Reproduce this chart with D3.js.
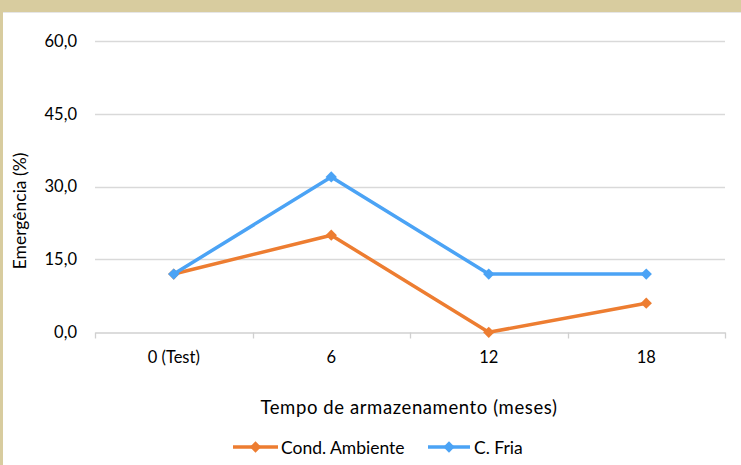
<!DOCTYPE html>
<html><head><meta charset="utf-8">
<script src="https://cdn.jsdelivr.net/npm/d3@7"></script>
<style>
html,body{margin:0;padding:0;background:#fff;}
svg{display:block;font-family:Lato,"Open Sans",sans-serif;}
</style></head>
<body>
<script>
const categories = ["0 (Test)", "6", "12", "18"];
const condAmbiente = [12, 20, 0, 6];
const cFria = [12, 32, 12, 12];
const yTicks = [0, 15, 30, 45, 60];
const seriesNames = ["Cond. Ambiente", "C. Fria"];
const seriesColors = ["#ED7D31", "#4BA3F5"];

(function(){
const W = 741, H = 465;
const svg = d3.select("body").append("svg").attr("width", W).attr("height", H);

// frame
svg.append("rect").attr("x",0).attr("y",0).attr("width",W).attr("height",H).attr("fill","#fff");
svg.append("rect").attr("x",0).attr("y",0).attr("width",W).attr("height",12).attr("fill","#D8CC9F");
svg.append("rect").attr("x",0).attr("y",0).attr("width",3).attr("height",H).attr("fill","#D8CC9F");
svg.append("line").attr("x1",3).attr("x2",W).attr("y1",12.5).attr("y2",12.5).attr("stroke","#E6E6E6");

const pLeft = 95, pRight = 725, pTop = 41, pBottom = 332.3;
const x = d3.scaleBand().domain(categories).range([pLeft, pRight]).padding(0);
const y = d3.scaleLinear().domain([0, 60]).range([pBottom, pTop]);

// gridlines
svg.append("g").selectAll("line").data(yTicks.filter(d=>d>0)).join("line")
  .attr("x1", pLeft).attr("x2", pRight)
  .attr("y1", d=>Math.round(y(d))+0.5).attr("y2", d=>Math.round(y(d))+0.5)
  .attr("stroke", "#D9D9D9").attr("stroke-width", 1.3);

// y axis labels
const yAxis = d3.axisLeft(y).tickValues(yTicks).tickSize(0).tickPadding(0)
  .tickFormat(d => d3.format(".1f")(d).replace(".", ","));
const gy = svg.append("g").attr("transform", `translate(${77},0)`).call(yAxis);
gy.select(".domain").remove();
gy.selectAll("text").attr("font-size", 16.5).attr("fill", "#000").attr("font-family","Lato,sans-serif");

// x axis
const xAxis = d3.axisBottom(x).tickSize(0).tickPadding(19);
const gx = svg.append("g").attr("transform", `translate(0,${Math.round(pBottom)+0.5})`).call(xAxis);
gx.select(".domain").attr("stroke", "#D0D0D0").attr("stroke-width", 1.3);
gx.selectAll("text").attr("font-size", 16.5).attr("fill", "#000").attr("font-family","Lato,sans-serif");
// boundary ticks
const bounds = categories.map(c => x(c)).concat([x(categories[categories.length-1]) + x.bandwidth()]);
gx.append("g").selectAll("line").data(bounds).join("line")
  .attr("x1", d=>Math.round(d)+0.5).attr("x2", d=>Math.round(d)+0.5)
  .attr("y1", 0).attr("y2", 6).attr("stroke", "#D0D0D0").attr("stroke-width", 1.3);

// series
const seriesData = [condAmbiente, cFria];
const line = d3.line().x((d,i)=>x(categories[i]) + x.bandwidth()/2).y(d=>y(d));
const diamond = d3.symbol().type(d3.symbolSquare).size(64);
seriesData.forEach((vals, si) => {
  const g = svg.append("g");
  g.append("path").datum(vals).attr("d", line).attr("fill","none")
    .attr("stroke", seriesColors[si]).attr("stroke-width", 3.5).attr("stroke-linejoin","round");
  g.selectAll("path.m").data(vals).join("path").attr("class","m")
    .attr("d", diamond)
    .attr("transform", (d,i)=>`translate(${x(categories[i]) + x.bandwidth()/2},${y(d)}) rotate(45)`)
    .attr("fill", seriesColors[si]);
});

// axis titles
svg.append("text").attr("transform", `translate(26,211) rotate(-90)`)
  .attr("text-anchor","middle").attr("font-size",17.5).attr("fill","#000")
  .text("Emergência (%)");
svg.append("text").attr("x", 409).attr("y", 414)
  .attr("text-anchor","middle").attr("font-size",18.5).attr("fill","#000")
  .attr("letter-spacing", 0.6)
  .text("Tempo de armazenamento (meses)");

// legend
const legendItems = [
  {name: seriesNames[0], color: seriesColors[0], x1: 233, x2: 278, tx: 281},
  {name: seriesNames[1], color: seriesColors[1], x1: 428, x2: 470, tx: 474}
];
const lg = svg.append("g");
legendItems.forEach(it => {
  lg.append("line").attr("x1", it.x1).attr("x2", it.x2).attr("y1", 447).attr("y2", 447)
    .attr("stroke", it.color).attr("stroke-width", 3.5);
  lg.append("path").attr("d", diamond).attr("transform", `translate(${(it.x1+it.x2)/2},447) rotate(45)`).attr("fill", it.color);
  lg.append("text").attr("x", it.tx).attr("y", 453.5).attr("font-size",17.5).attr("fill","#000").text(it.name);
});
})();
</script>
</body></html>
